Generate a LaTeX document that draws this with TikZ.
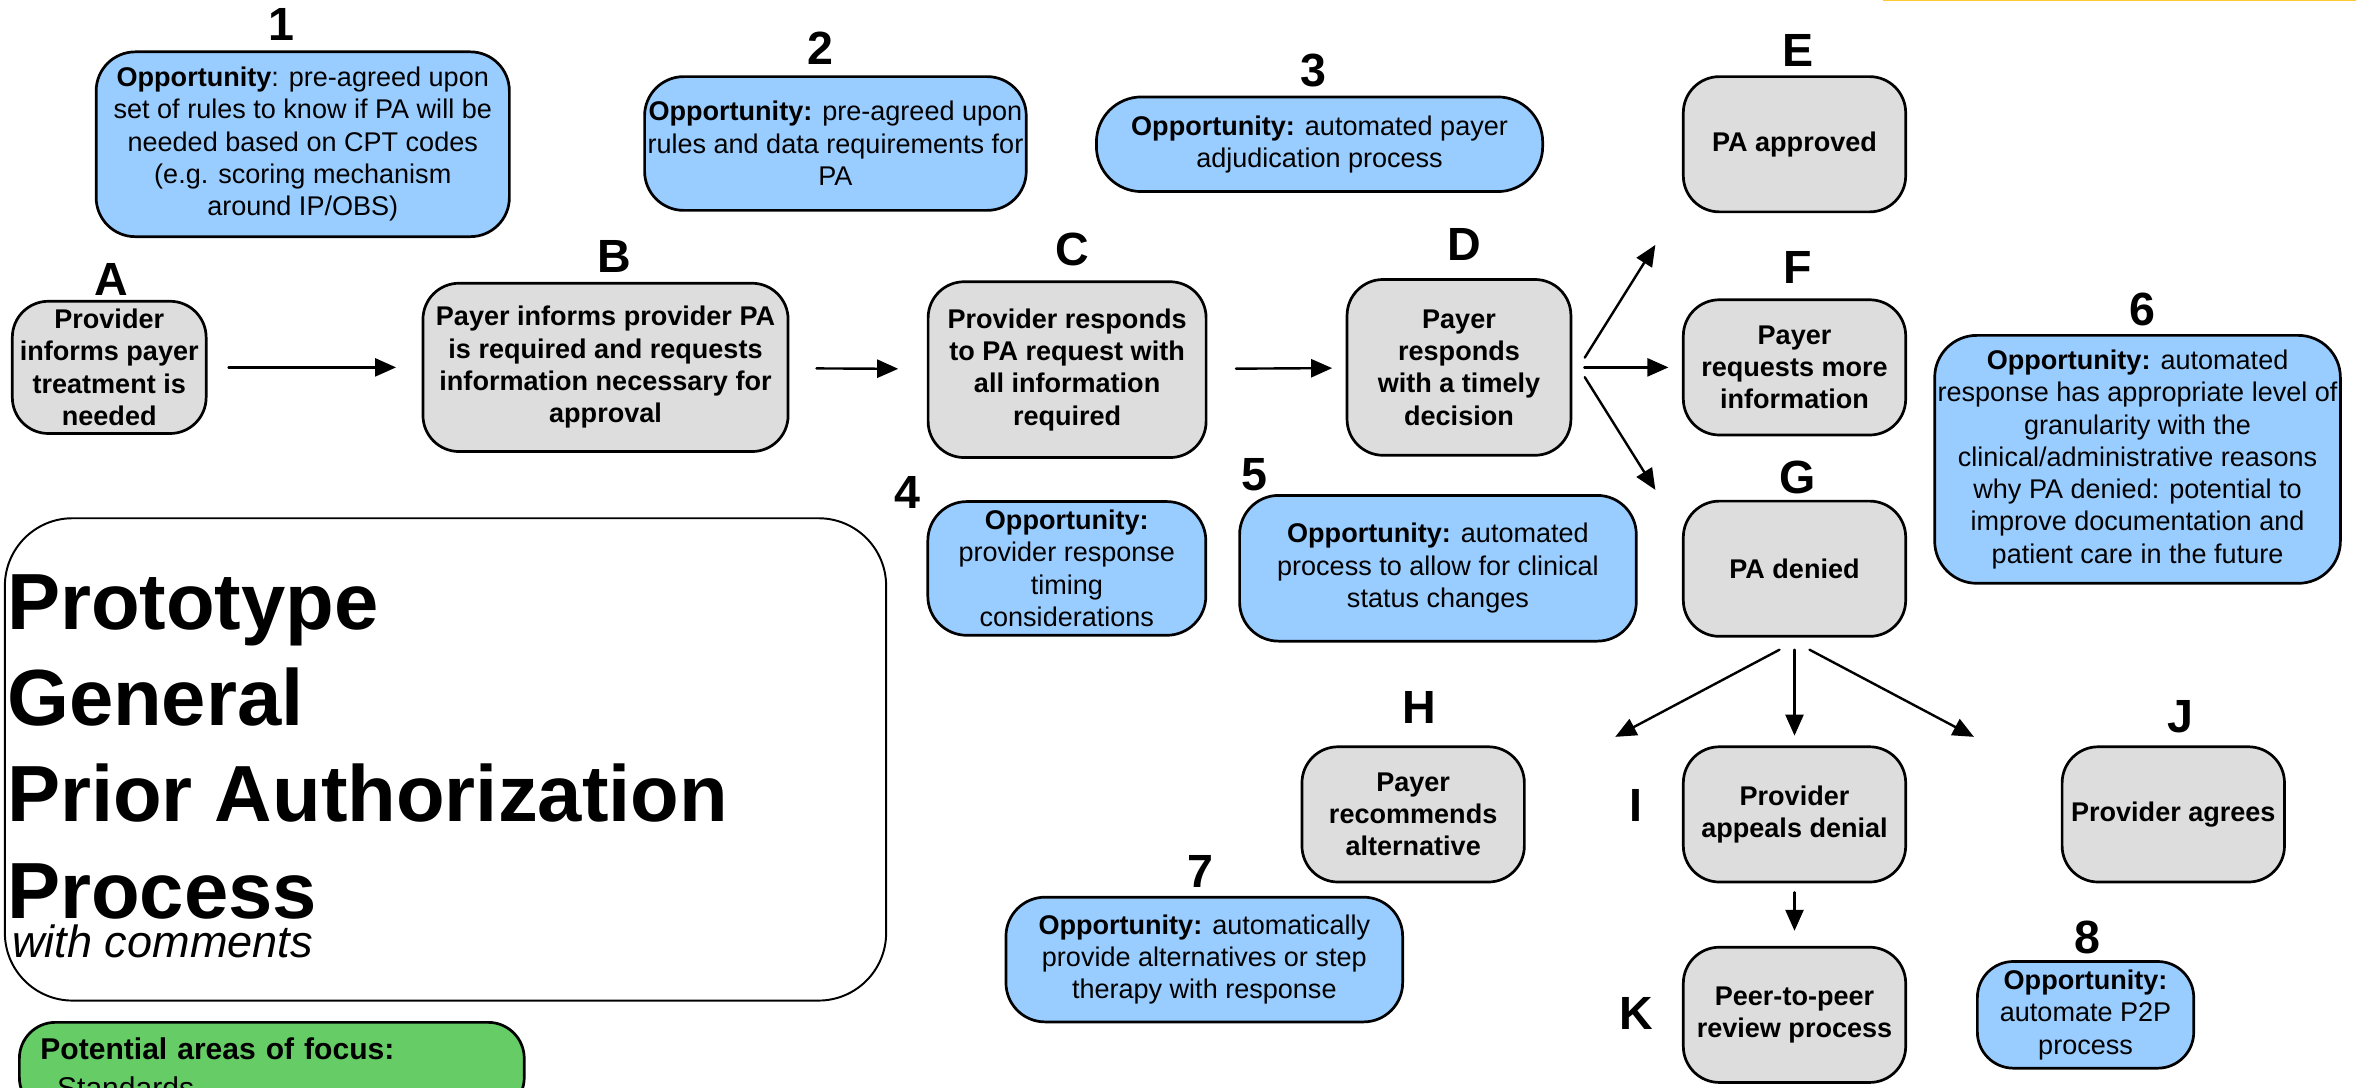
\documentclass[tikz,border=0pt]{standalone}
\usepackage{fontspec}
\setmainfont{Liberation Sans}
\usepackage{tikz}
\usetikzlibrary{arrows.meta}

\definecolor{oppblue}{HTML}{99CCFF}
\definecolor{procgrey}{HTML}{DDDDDD}
\definecolor{focusgreen}{HTML}{66CC66}
\definecolor{topyellow}{HTML}{FFC933}

\begin{document}
\begin{tikzpicture}[x=1pt, y=-1pt,
  boxsize/.style 2 args={minimum width=#1pt, minimum height=#2pt},
  procbox/.style={draw=black, line width=1.8pt, fill=procgrey, rounded corners=24pt,
    align=center, inner sep=0pt, font=\bfseries\fontsize{18}{21.5}\selectfont},
  oppbox/.style={draw=black, line width=1.8pt, fill=oppblue, rounded corners=26pt,
    align=center, inner sep=0pt, font=\fontsize{18}{21.5}\selectfont},
  tag/.style={inner sep=0pt, font=\bfseries\fontsize{31}{31}\selectfont},
  arr/.style={-{Triangle[length=14pt,width=12pt]}, line width=1.6pt, line cap=round}]
		\useasboundingbox (0,0) rectangle (1568,724);
		\clip (0,0) rectangle (1568,724);
		\draw[topyellow, line width=1pt] (1253,0.45) -- (1568,0.45);
		% opportunities along the top
		\node[tag] (l1) at (187,16.6) {1};
		\node[oppbox, boxsize={275}{123}] (opp1) at (201.5,96) {\textbf{Opportunity}: pre-agreed upon\\set of rules to know if PA will be\\needed based on CPT codes\\(e.g. scoring mechanism\\around IP/OBS)};
		\node[tag] (l2) at (546,32) {2};
		\node[oppbox, boxsize={254}{89}] (opp2) at (556,95.5) {\textbf{Opportunity:} pre-agreed upon\\rules and data requirements for\\PA};
		\node[tag] (l3) at (874,46.6) {3};
		\node[oppbox, boxsize={297}{63}, rounded corners=30pt] (opp3) at (878.2,96) {\textbf{Opportunity:} automated payer\\adjudication process};
		% main flow
		\node[tag] (lA) at (74,186) {A};
		\node[procbox, boxsize={129}{88}] (A) at (72.7,244.5) {Provider\\informs payer\\treatment is\\needed};
		\node[tag] (lB) at (408.6,171) {B};
		\node[procbox, boxsize={243}{112}] (B) at (403,244.5) {Payer informs provider PA\\is required and requests\\information necessary for\\approval};
		\node[tag] (lC) at (713.6,166) {C};
		\node[procbox, boxsize={185}{117}] (C) at (710.2,246) {Provider responds\\to PA request with\\all information\\required};
		\node[tag] (lD) at (974.5,163) {D};
		\node[procbox, boxsize={149}{117}] (D) at (971,244.5) {Payer\\responds\\with a timely\\decision};
		\node[tag] (lE) at (1196.6,33.4) {E};
		\node[procbox, boxsize={148}{90}] (E) at (1194.3,96) {PA approved};
		\node[tag] (lF) at (1196.6,178.3) {F};
		\node[procbox, boxsize={148}{90}] (F) at (1194.3,244.5) {Payer\\requests more\\information};
		\node[tag] (lG) at (1196.6,318) {G};
		\node[procbox, boxsize={148}{90}] (G) at (1194.3,378.5) {PA denied};
		\node[tag] (l6) at (1426,206) {6};
		\node[oppbox, boxsize={270}{165}, rounded corners=28pt] (opp6) at (1422.6,305.7) {\textbf{Opportunity:} automated\\response has appropriate level of\\granularity with the\\clinical/administrative reasons\\why PA denied: potential to\\improve documentation and\\patient care in the future};
		\node[tag] (l4) at (604,328) {4};
		\node[oppbox, boxsize={185}{89}] (opp4) at (710,378.3) {\textbf{Opportunity:}\\provider response\\timing\\considerations};
		\node[tag] (l5) at (835,315.6) {5};
		\node[oppbox, boxsize={264}{97}] (opp5) at (957,378.2) {\textbf{Opportunity:} automated\\process to allow for clinical\\status changes};
		% after denial
		\node[tag] (lH) at (944.4,471) {H};
		\node[procbox, boxsize={148}{90}] (H) at (940.5,542) {Payer\\recommends\\alternative};
		\node[tag] (lI) at (1089,536) {I};
		\node[procbox, boxsize={148}{90}] (I) at (1194.3,542) {Provider\\appeals denial};
		\node[tag] (lJ) at (1451,476.8) {J};
		\node[procbox, boxsize={148}{90}] (J) at (1446.4,542) {Provider agrees};
		\node[tag] (l7) at (799,579.7) {7};
		\node[oppbox, boxsize={264}{83}] (opp7) at (801.5,638.6) {\textbf{Opportunity:} automatically\\provide alternatives or step\\therapy with response};
		\node[tag] (lK) at (1089,674.5) {K};
		\node[procbox, boxsize={148}{90}] (K) at (1194.3,675.4) {Peer-to-peer\\review process};
		\node[tag] (l8) at (1389,624) {8};
		\node[oppbox, boxsize={144}{71}, rounded corners=24pt] (opp8) at (1388,675.4) {\textbf{Opportunity:}\\automate P2P\\process};
		% title and focus list
		\node[draw=black, line width=1.3pt, rounded corners=45pt, boxsize={586.5}{321}] (titlebox) at (296.5,505.4) {};
		\node[anchor=base west, align=left, inner sep=0pt, font=\bfseries\fontsize{53}{64}\selectfont] (ttl) at (4.5,611) {Prototype\\General\\Prior Authorization\\Process};
		\node[anchor=base west, inner sep=0pt, font=\itshape\fontsize{30}{30}\selectfont] (sub) at (8,637) {with comments};
		\node[draw=black, line width=1.8pt, fill=focusgreen, rounded corners=24pt, anchor=north west,
		  text width=308pt, align=left, inner xsep=14pt, inner ysep=10pt, font=\fontsize{20}{26}\selectfont] (focus) at (12,679.5) {\textbf{Potential areas of focus:}\\--Standards\\ };
		% connectors
		\coordinate (toE) at (1101.7,163);
		\coordinate (toG) at (1101.7,326);
		\coordinate (toH) at (1075,490.4);
		\coordinate (toJ) at (1313.7,490.4);
		\draw[arr, shorten <=14pt, shorten >=17pt] (A) -- (B);
		\draw[arr, shorten <=18pt, shorten >=19pt] (B) -- (C);
		\draw[arr, shorten <=19pt, shorten >=9pt] (C) -- (D);
		\draw[arr, shorten <=8pt, shorten >=9pt] (D) -- (F);
		\draw[arr] ([xshift=8.3pt,yshift=6.5pt]D.east) -- (toE);
		\draw[arr] ([xshift=8.3pt,yshift=-6.5pt]D.east) -- (toG);
		\draw[arr, shorten <=8pt, shorten >=6.5pt] (G) -- (I);
		\draw[arr] ([xshift=-10pt,yshift=-8pt]G.south) -- (toH);
		\draw[arr] ([xshift=10pt,yshift=-8pt]G.south) -- (toJ);
		\draw[arr, shorten <=6pt, shorten >=10pt] (I) -- (K);
\end{tikzpicture}
\end{document}
